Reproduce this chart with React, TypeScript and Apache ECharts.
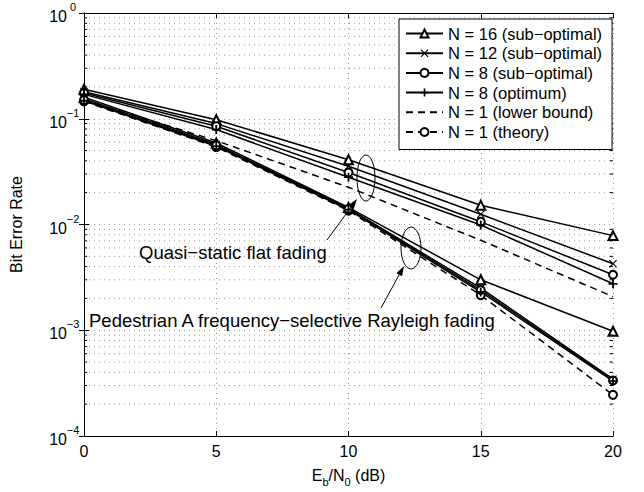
import React, { useEffect, useRef } from "react";
import * as echarts from "echarts";

const snr = [0, 5, 10, 15, 20];
// Quasi-static flat fading
const flatN16 = [0.19, 0.098, 0.041, 0.0152, 0.00785];
const flatN12 = [0.18, 0.09, 0.0355, 0.0125, 0.00425];
const flatN8sub = [0.175, 0.085, 0.031, 0.0106, 0.00335];
const flatN8opt = [0.17, 0.079, 0.028, 0.0099, 0.00275];
const flatBound = [0.15, 0.062, 0.0225, 0.0071, 0.00208];
// Pedestrian A frequency-selective Rayleigh fading
const pedN16 = [0.16, 0.059, 0.0145, 0.003, 0.00098];
const pedN12 = [0.155, 0.057, 0.0142, 0.0025, 0.000345];
const pedN8sub = [0.15, 0.056, 0.014, 0.0024, 0.000335];
const pedN8opt = [0.148, 0.055, 0.0138, 0.0023, 0.00033];
const pedTheory = [0.146, 0.054, 0.0135, 0.00215, 0.000245];

const legendNames = [
  "N = 16 (sub−optimal)",
  "N = 12 (sub−optimal)",
  "N = 8 (sub−optimal)",
  "N = 8 (optimum)",
  "N = 1 (lower bound)",
  "N = 1 (theory)",
];
const xMin = 0;
const xMax = 20;
const xInterval = 5;
const yMin = 1e-4;
const yMax = 1;
const minorDecades = [-4, -3, -2, -1];
const minorMultipliers = [2, 3, 4, 5, 6, 7, 8, 9];

const FONT = '"Liberation Sans", Arial, Helvetica, sans-serif';
const GRID_COLOR = "#999";
const PLUS = "path://M4,0h2v4h4v2h-4v4h-2v-4h-4v-2h4z";
const CROSS = "path://M1,0L5,4L9,0L10,1L6,5L10,9L9,10L5,6L1,10L0,9L4,5L0,1Z";

function mk(name: string, values: number[], symbol: string, symbolSize: number, dashed: boolean, border: number) {
  const hasSym = symbol !== "none";
  return {
    type: "line",
    name,
    data: snr.map((x, i) => [x, values[i]]),
    symbol: hasSym ? symbol : "circle",
    symbolSize: hasSym ? symbolSize : 0,
    showSymbol: hasSym,
    lineStyle: { color: "#000", width: 1.5, type: dashed ? [7, 5] : "solid" },
    itemStyle: { color: "#000", borderColor: "#000", borderWidth: border },
    z: 3,
    silent: true,
  };
}

function seg(name: string, pts: number[][], color: string, type: any, z: number) {
  return {
    type: "line",
    name,
    data: pts,
    symbol: "none",
    showSymbol: false,
    silent: true,
    z,
    lineStyle: { color, width: 1, type },
  };
}

function arrow(x1: number, y1: number, x2: number, y2: number) {
  const L = 10, W = 3.3;
  const dx = x2 - x1, dy = y2 - y1;
  const len = Math.hypot(dx, dy);
  const ux = dx / len, uy = dy / len;
  const bx = x2 - ux * L, by = y2 - uy * L;
  const px = -uy, py = ux;
  return [
    { type: "line", shape: { x1, y1, x2: bx, y2: by }, style: { stroke: "#000", lineWidth: 1 }, z: 10 },
    {
      type: "polygon",
      shape: { points: [[x2, y2], [bx + px * W, by + py * W], [bx - px * W, by - py * W]] },
      style: { fill: "#000" },
      z: 10,
    },
  ];
}

export default function App() {
  const ref = useRef<HTMLDivElement>(null);
  useEffect(() => {
    document.body.style.margin = "0";
    const chart = echarts.init(ref.current!, null, { renderer: "svg" });
    const minorVals: number[] = [];
    minorDecades.forEach((d) => minorMultipliers.forEach((m) => minorVals.push(m * Math.pow(10, d))));

    const gridSeries = minorVals.map((v, i) =>
      seg("_g" + i, [[xMin, v], [xMax, v]], GRID_COLOR, [1, 4], 1)
    );
    const tickSeries = minorVals.flatMap((v, i) => [
      seg("_tl" + i, [[xMin, v], [xMin + 0.12, v]], "#000", "solid", 4),
      seg("_tr" + i, [[xMax - 0.12, v], [xMax, v]], "#000", "solid", 4),
    ]);

    const axisLine = { show: true, lineStyle: { color: "#000", width: 1 } };
    const axisTick = { show: true, inside: true, length: 5, lineStyle: { color: "#000", width: 1 } };
    const dotted = { show: true, lineStyle: { color: GRID_COLOR, type: [1, 4], width: 1 } };

    const supLabel = (v: number) => {
      const e = Math.round(Math.log10(v));
      return `{b|10}{s|${e < 0 ? "−" + -e : e}}`;
    };

    chart.setOption({
      animation: false,
      backgroundColor: "#fff",
      grid: { left: 75, right: 31, top: 13, bottom: 54, containLabel: false },
      legend: {
        data: legendNames.map((n, i) => (i === 4 ? { name: n, itemStyle: { opacity: 0 } } : { name: n })),
        orient: "vertical",
        left: 399,
        top: 19,
        itemWidth: 37,
        itemHeight: 10,
        itemGap: 2.7,
        padding: [6, 10, 9, 6],
        backgroundColor: "#fff",
        borderColor: "#000",
        borderWidth: 1,
        borderRadius: 0,
        selectedMode: false,
        z: 20,
        textStyle: { fontSize: 16.5, fontFamily: FONT, color: "#000", lineHeight: 16 },
      },
      xAxis: [
        {
          type: "value",
          min: xMin,
          max: xMax,
          interval: xInterval,
          axisLine,
          axisTick,
          axisLabel: { fontSize: 16, color: "#000", margin: 7, fontFamily: FONT },
          splitLine: dotted,
          name: "{n|E}{sub|b}{n|/N}{sub|0}{n| (dB)}",
          nameLocation: "middle",
          nameGap: 31,
          nameTextStyle: {
            rich: {
              n: { fontSize: 16, fontFamily: FONT, color: "#000", verticalAlign: "top" },
              sub: { fontSize: 11, fontFamily: FONT, color: "#000", verticalAlign: "top", padding: [9, 0, 0, 0] },
            },
          },
        },
        {
          type: "value",
          position: "top",
          min: xMin,
          max: xMax,
          interval: xInterval,
          axisLine,
          axisTick,
          axisLabel: { show: false },
          splitLine: { show: false },
        },
      ],
      yAxis: [
        {
          type: "log",
          logBase: 10,
          min: yMin,
          max: yMax,
          axisLine,
          axisTick,
          minorTick: { show: false },
          axisLabel: {
            formatter: supLabel,
            margin: 5,
            rich: {
              b: { fontSize: 16, fontFamily: FONT, color: "#000", verticalAlign: "bottom" },
              s: { fontSize: 11, fontFamily: FONT, color: "#000", verticalAlign: "top", padding: [0, 0, 12, 0], width: 12, align: "left" },
            },
          },
          splitLine: dotted,
          name: "Bit Error Rate",
          nameLocation: "middle",
          nameGap: 60,
          nameTextStyle: { fontSize: 16, fontFamily: FONT, color: "#000" },
        },
        {
          type: "log",
          logBase: 10,
          min: yMin,
          max: yMax,
          position: "right",
          axisLine,
          axisTick,
          axisLabel: { show: false },
          splitLine: { show: false },
        },
      ],
      series: [
        ...gridSeries,
        mk(legendNames[0], flatN16, "emptyTriangle", 9, false, 1.3),
        mk(legendNames[1], flatN12, CROSS, 8, false, 0),
        mk(legendNames[2], flatN8sub, "emptyCircle", 8, false, 1.5),
        mk(legendNames[3], flatN8opt, PLUS, 9, false, 0),
        mk(legendNames[4], flatBound, "none", 0, true, 0),
        mk(legendNames[5], pedTheory, "emptyCircle", 8, true, 1.5),
        mk(legendNames[0], pedN16, "emptyTriangle", 9, false, 1.3),
        mk(legendNames[1], pedN12, CROSS, 8, false, 0),
        mk(legendNames[2], pedN8sub, "emptyCircle", 8, false, 1.5),
        mk(legendNames[3], pedN8opt, PLUS, 9, false, 0),
        ...tickSeries,
      ],
      graphic: [
        { type: "ellipse", shape: { cx: 366, cy: 178, rx: 9, ry: 23 }, style: { fill: "none", stroke: "#000", lineWidth: 1 }, z: 10 },
        { type: "ellipse", shape: { cx: 411, cy: 248, rx: 10, ry: 21 }, style: { fill: "none", stroke: "#000", lineWidth: 1 }, z: 10 },
        ...arrow(327, 240, 357, 199),
        ...arrow(381, 308, 404, 266),
        {
          type: "text",
          x: 139,
          y: 252,
          style: { text: "Quasi−static flat fading", fontSize: 18.5, fontFamily: FONT, fill: "#000", verticalAlign: "middle" },
          z: 10,
        },
        {
          type: "text",
          x: 89,
          y: 320,
          style: { text: "Pedestrian A frequency−selective Rayleigh fading", fontSize: 18.5, fontFamily: FONT, fill: "#000", verticalAlign: "middle" },
          z: 10,
        },
      ],
    });
    return () => chart.dispose();
  }, []);
  return <div ref={ref} style={{ position: "fixed", left: 0, top: 0, width: 644, height: 492, background: "#fff" }} />;
}
